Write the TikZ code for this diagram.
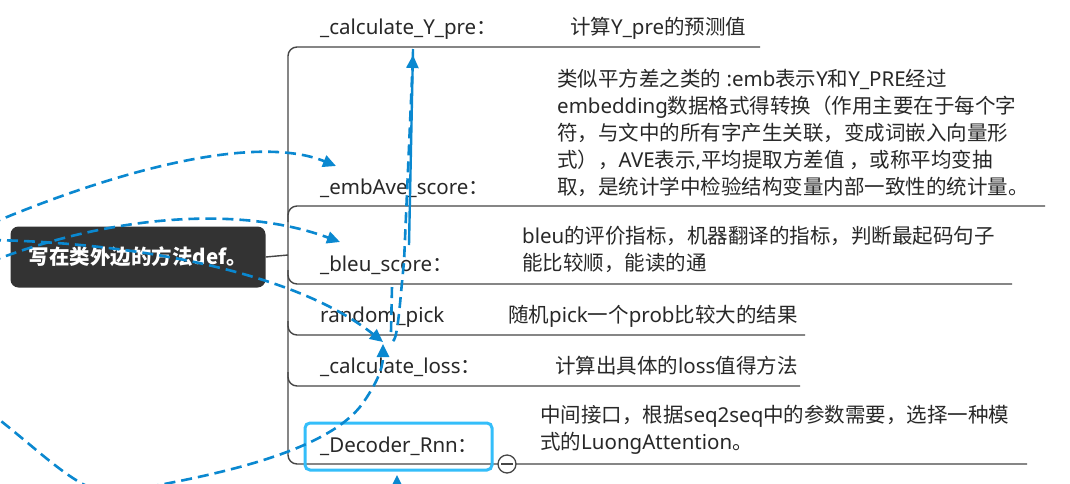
\documentclass[tikz,border=0pt]{standalone}
\usepackage{fontspec}
\setmainfont{Noto Sans CJK SC}
\newfontfamily\latfont{Noto Sans}
\newcommand\ltn[1]{{\latfont #1}}
\usetikzlibrary{arrows.meta}
\definecolor{relblue}{RGB}{10,136,208}
\definecolor{selblue}{RGB}{52,190,250}
\definecolor{rootfill}{RGB}{51,51,51}
\definecolor{branchgray}{RGB}{70,70,70}
\definecolor{txtgray}{RGB}{40,40,40}
\begin{document}
\begin{tikzpicture}[x=1pt,y=-1pt,
  lbl/.style={anchor=base west,inner sep=0pt,text=txtgray,font=\fontsize{20.5}{26.8}\selectfont},
  desc/.style={lbl,align=left},
  branch/.style={draw=branchgray,line width=1.4pt,rounded corners=9pt},
  rel/.style={draw=relblue,line width=2.6pt,dash pattern=on 11pt off 6pt,-{Triangle[length=13pt,width=12pt]}},
  relplain/.style={draw=relblue,line width=2.6pt,dash pattern=on 11pt off 6pt},
  relsolid/.style={draw=relblue,line width=2.4pt},
  rootbox/.style={fill=rootfill,rounded corners=8pt,minimum width=255pt,minimum height=61pt,inner sep=0pt,text=white,font=\fontsize{20.5}{24}\selectfont\bfseries},
  selbox/.style={draw=selblue,line width=3pt,rounded corners=5pt}
]
\useasboundingbox (0,0) rectangle (1070,483);
\clip (0,0) rectangle (1070,483);
\fill[white] (0,0) rectangle (1070,483);

% root
\node[rootbox] (root) at (138,257) {写在类外边的方法def。};
\coordinate (sp) at (288,255);
\draw[branchgray,line width=1.4pt] (root.east) -- (sp);

% spine and branch lines
\draw[branch] (1027,464) -- (288,464) -- (288,47) -- (760,47);
\draw[branch] (288,222) -- (288,206) -- (1045,206);
\draw[branch] (288,270) -- (288,284) -- (1012,284);
\draw[branch] (288,321) -- (288,335) -- (805,335);
\draw[branch] (288,372) -- (288,386) -- (800,386);

% labels
\node[lbl] (cy) at (320,34) {\ltn{\_calculate\_Y\_pre}：};
\node[lbl] (cyd) at (570,34) {计算\ltn{Y\_pre}的预测值};
\node[lbl] (emb) at (320,194) {\ltn{\_embAve\_score}：};
\node[desc] (embd) at (557,194) {类似平方差之类的\ltn{ :emb}表示\ltn{Y}和\ltn{Y\_PRE}经过\\
\ltn{embedding}数据格式得转换（作用主要在于每个字\\
符，与文中的所有字产生关联，变成词嵌入向量形\\
式），\ltn{AVE}表示\ltn{,}平均提取方差值 ，或称平均变抽\\
取，是统计学中检验结构变量内部一致性的统计量。};
\node[lbl] (bleu) at (320,271) {\ltn{\_bleu\_score}：};
\node[desc] (bleud) at (522,270) {\ltn{bleu}的评价指标，机器翻译的指标，判断最起码句子\\
能比较顺，能读的通};
\node[lbl] (rp) at (320,322) {\ltn{random\_pick}};
\node[lbl] (rpd) at (508,322) {随机\ltn{pick}一个\ltn{prob}比较大的结果};
\node[lbl] (cl) at (320,373) {\ltn{\_calculate\_loss}：};
\node[lbl] (cld) at (555,373) {计算出具体的\ltn{loss}值得方法};
\node[lbl] (dec) at (320,452) {\ltn{\_Decoder\_Rnn}：};
\node[desc] (decd) at (540,449) {中间接口，根据\ltn{seq2seq}中的参数需要，选择一种模\\
式的\ltn{LuongAttention}。};

% selection box and collapse marker
\draw[selbox] (305,423) rectangle (492,470);
\node[circle,draw=branchgray,fill=white,line width=1.3pt,minimum size=18pt,inner sep=0pt] (col) at (507,464) {};
\draw[branchgray,line width=1.3pt] ([xshift=-6pt]col.center) -- ([xshift=6pt]col.center);

% relationship curves
\coordinate (a0) at (-10,224);
\coordinate (a1) at (336,166);
\draw[rel] (a0) .. controls (130,165) and (260,135) .. (a1);
\coordinate (b0) at (-10,262);
\coordinate (b1) at (340,242);
\draw[rel] (b0) .. controls (110,215) and (240,205) .. (b1);
\coordinate (c0) at (-10,240);
\coordinate (c1) at (383,342);
\draw[rel] (c0) .. controls (120,242) and (290,268) .. (c1);
\coordinate (d0) at (-12,411);
\coordinate (d1) at (115,493);
\coordinate (d2) at (365,400);
\coordinate (d3) at (383,344);
\draw[rel] (d0) .. controls (40,450) and (80,495) .. (d1)
  .. controls (200,478) and (330,455) .. (d2)
  .. controls (375,385) and (383,370) .. (d3);
\coordinate (e0) at (393,341);
\coordinate (e1) at (413,55);
\draw[rel] (e0) .. controls (398,338) and (400,300) .. (404,262) -- (e1);
\coordinate (e2) at (409,245);
\draw[relsolid] (e2) -- ([yshift=6pt]e1);
\coordinate (g0) at (391,332);
\coordinate (g1) at (392,286);
\draw[relplain] (g0) -- (g1);
\coordinate (f0) at (397,500);
\coordinate (f1) at (397,475);
\draw[rel] (f0) -- (f1);
\end{tikzpicture}
\end{document}
